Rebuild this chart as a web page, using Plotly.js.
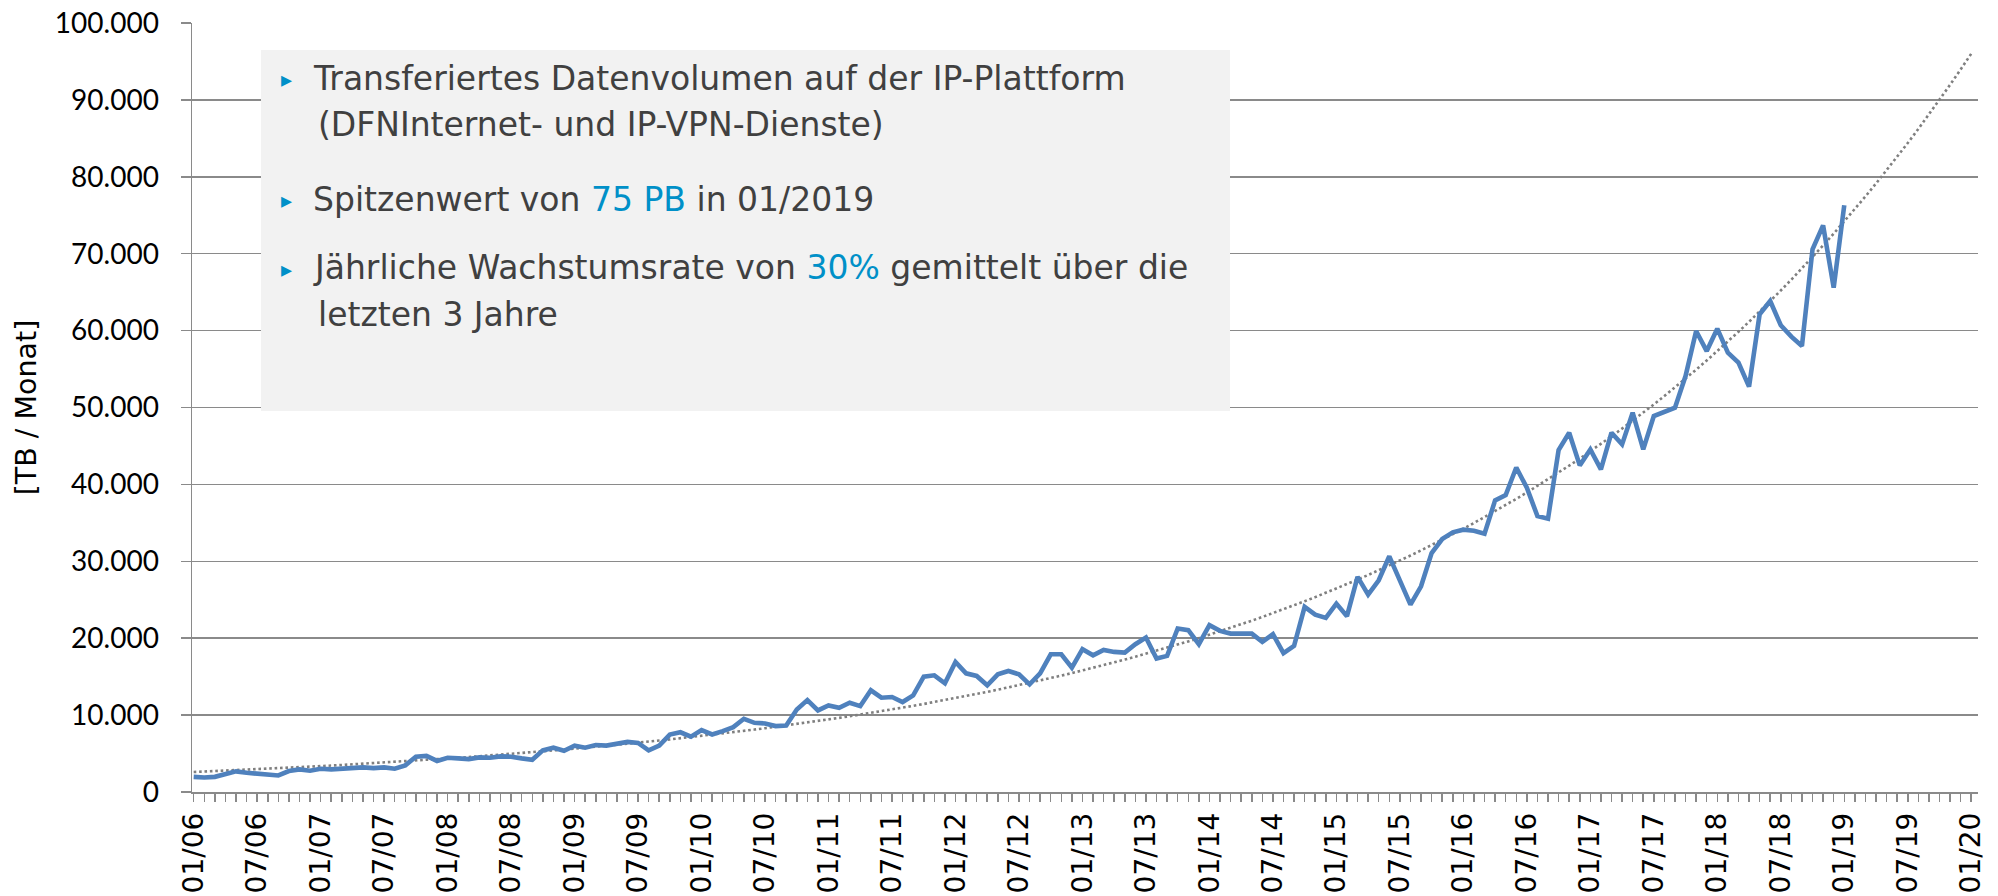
<!DOCTYPE html>
<html><head><meta charset="utf-8">
<script src="https://cdn.plot.ly/plotly-3.0.1.min.js"></script>
<style>html,body{margin:0;padding:0;background:#fff;} #chart{width:1998px;height:896px;}</style>
</head><body><div id="chart"></div>
<script>
// ---------- data ----------
const tickLabels = ["01/06","07/06","01/07","07/07","01/08","07/08","01/09","07/09","01/10","07/10",
  "01/11","07/11","01/12","07/12","01/13","07/13","01/14","07/14","01/15","07/15",
  "01/16","07/16","01/17","07/17","01/18","07/18","01/19","07/19","01/20"];
// monthly transferred volume in TB, 01/2006 .. 01/2019
const volumeTB = [
  1970,1890,1970,2320,2680,2500,2410,2240,2150,2720,2940,2760,
  3030,2940,3070,3110,3200,3110,3200,3030,3460,4600,4690,4040,
  4450,4370,4280,4500,4450,4630,4590,4370,4190,5410,5760,5370,
  6030,5760,6110,6030,6290,6510,6380,5410,6030,7470,7770,7200,
  8050,7480,7910,8430,9520,9000,8910,8570,8650,10740,11960,10610,
  11260,10960,11610,11170,13220,12260,12350,11700,12570,15000,15170,14130,
  16910,15430,15090,13870,15300,15740,15300,14000,15430,17910,17910,16170,
  18570,17780,18480,18220,18130,19220,20090,17350,17700,21260,21040,19220,
  21700,20950,20600,20600,20600,19520,20520,18050,19000,24070,23070,22640,
  24500,22860,27970,25670,27530,30650,27660,24370,26750,31080,32900,33770,
  34110,33980,33590,37920,38600,42200,39570,35880,35530,44470,46720,42470,
  44550,41950,46720,45200,49320,44550,48890,49450,49970,54090,59950,57340,
  60250,57130,55830,52710,62120,63850,60690,59210,58000,70570,73690,65590,
  76300
];
// exponential trend line (as drawn): value at 01/06 and at 01/20 (end of forecast)
const trendStartTB = 2600;
const trendEndTB = 96000;
const monthsPerTick = 6;

// ---------- derived ----------
const xMonths = volumeTB.map((_, i) => i);
const tickVals = tickLabels.map((_, k) => k * monthsPerTick);
const lastMonth = tickVals[tickVals.length - 1];
const trendX = [], trendY = [];
for (let i = 0; i <= lastMonth; i++) {
  trendX.push(i);
  trendY.push(trendStartTB * Math.pow(trendEndTB / trendStartTB, i / lastMonth));
}

// ---------- geometry helpers ----------
const ML = 192, MR = 20, MT = 23, MB = 104, W = 1998, H = 896;
const PW = W - ML - MR, PH = H - MT - MB;
const px2x = px => (px - ML) / PW;
const py2y = py => (H - MB - py) / PH;

const grid = '#8a8a8a';
const textCol = '#404040';
const accent = '#0090c8';
const boxFont = {family: 'DejaVu Sans, Verdana, sans-serif', size: 33, color: textCol};

const traces = [
  {x: trendX, y: trendY, type: 'scatter', mode: 'lines', hoverinfo: 'skip',
   line: {color: '#7f7f7f', width: 2.6, dash: '2.6px,2.8px'}},
  {x: xMonths, y: volumeTB, type: 'scatter', mode: 'lines',
   line: {color: '#4f81bd', width: 4.6}}
];

const lines = [
  {t: 'Transferiertes Datenvolumen auf der IP-Plattform', x: 312, y: 78, bullet: true},
  {t: '(DFNInternet- und IP-VPN-Dienste)', x: 317, y: 125},
  {t: 'Spitzenwert von <span style="color:' + accent + '">75 PB</span> in 01/2019', x: 312, y: 199, bullet: true},
  {t: 'Jährliche Wachstumsrate von <span style="color:' + accent + '">30%</span> gemittelt über die', x: 312, y: 267, bullet: true},
  {t: 'letzten 3 Jahre', x: 317, y: 314}
];
const annotations = [];
lines.forEach(l => {
  annotations.push({xref: 'paper', yref: 'paper', x: px2x(l.x), y: py2y(l.y), xanchor: 'left', yanchor: 'middle',
    text: l.t, showarrow: false, font: boxFont, borderpad: 0});
  if (l.bullet) annotations.push({xref: 'paper', yref: 'paper', x: px2x(286), y: py2y(l.y + 2), xanchor: 'center', yanchor: 'middle',
    text: '▸', showarrow: false, font: {family: 'DejaVu Sans', size: 22, color: accent}, borderpad: 0});
});

const layout = {
  width: W, height: H,
  margin: {l: ML, r: MR, t: MT, b: MB, pad: 0},
  paper_bgcolor: '#fff', plot_bgcolor: '#fff',
  showlegend: false,
  separators: ',.',
  xaxis: {
    range: [-0.16, 168.64], tickmode: 'array', tickvals: tickVals, ticktext: tickLabels,
    tickangle: -90, ticks: 'outside', ticklen: 8, tickwidth: 1.5, tickcolor: grid,
    showline: true, linecolor: grid, linewidth: 1.5, showgrid: false, zeroline: false,
    tickfont: {family: 'DejaVu Sans, Verdana, sans-serif', size: 28, color: '#000'},
    ticklabelstandoff: 0,
    minor: {tickmode: 'linear', tick0: 0, dtick: 1, ticks: 'outside', ticklen: 8, tickwidth: 1.5, tickcolor: grid, showgrid: false},
    automargin: false, fixedrange: true
  },
  yaxis: {
    range: [0, 100000], tickmode: 'linear', tick0: 0, dtick: 10000, tickformat: ',d',
    showgrid: true, gridcolor: grid, gridwidth: 1.5, showline: true, linecolor: grid, linewidth: 1.5,
    ticks: 'outside', ticklen: 10, tickwidth: 1.5, tickcolor: grid, zeroline: false,
    tickfont: {family: 'Lato, Calibri, sans-serif', size: 28, color: '#000'},
    ticklabelstandoff: 16,
    title: {text: '[TB / Monat]', font: {family: 'DejaVu Sans, Verdana, sans-serif', size: 28.5, color: '#000'}, standoff: 10},
    automargin: false, fixedrange: true
  },
  shapes: [
    {type: 'rect', xref: 'paper', yref: 'paper', x0: px2x(261), x1: px2x(1230), y0: py2y(411), y1: py2y(50),
     fillcolor: '#f2f2f2', line: {width: 0}, layer: 'above'}
  ],
  annotations: annotations
};

Plotly.newPlot('chart', traces, layout, {displayModeBar: false, staticPlot: true});
</script>
</body></html>
